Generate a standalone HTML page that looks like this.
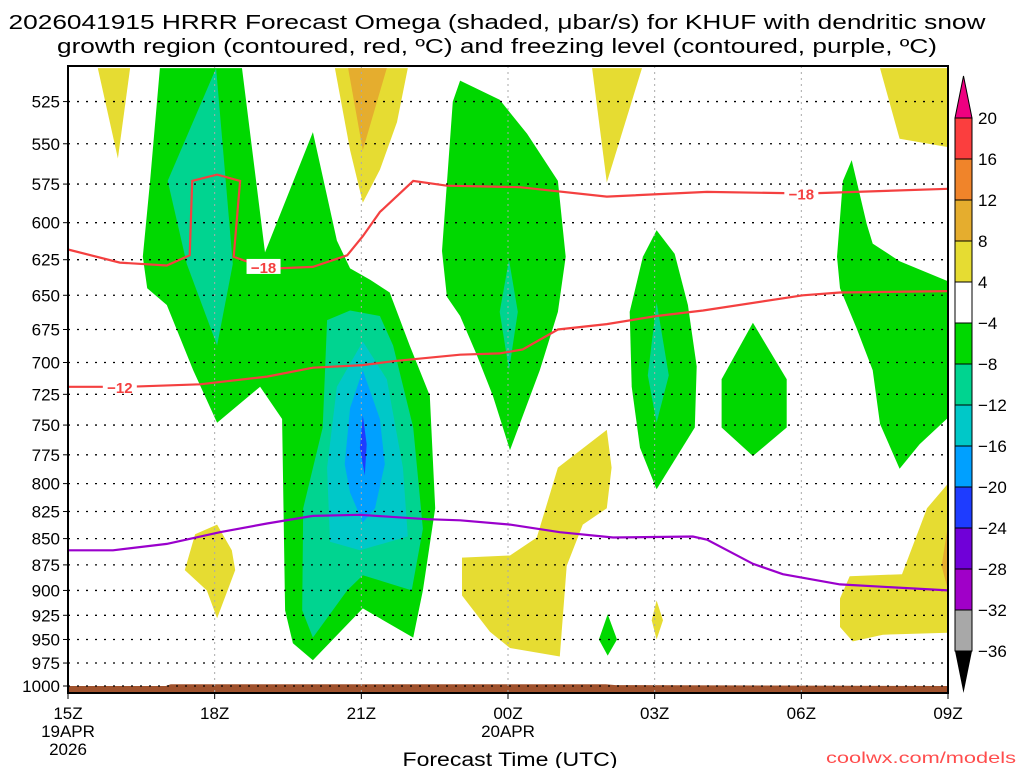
<!DOCTYPE html>
<html><head><meta charset="utf-8"><style>
body{margin:0;background:#fff;}
svg{display:block;font-family:"Liberation Sans",sans-serif;}
</style></head><body>
<svg id="chart" width="1024" height="768" viewBox="0 0 1024 768" xmlns="http://www.w3.org/2000/svg">
<rect width="1024" height="768" fill="#fff"/>
<text x="497" y="29" font-size="20" text-anchor="middle" textLength="977" lengthAdjust="spacingAndGlyphs">2026041915 HRRR Forecast Omega (shaded, μbar/s) for KHUF with dendritic snow</text>
<text x="497" y="53" font-size="20" text-anchor="middle" textLength="880" lengthAdjust="spacingAndGlyphs">growth region (contoured, red, ºC) and freezing level (contoured, purple, ºC)</text>
<g id="shade"></g>
<g id="grid"></g>
<g id="lines"></g>
<g id="axes"></g>
<g id="cbar"></g>
<text x="510" y="766" font-size="19" text-anchor="middle" textLength="215" lengthAdjust="spacingAndGlyphs">Forecast Time (UTC)</text>
<text x="826" y="763" font-size="16" fill="#ff4d4d" textLength="190" lengthAdjust="spacingAndGlyphs">coolwx.com/models</text>
</svg>
<script>
// ---- data ----
const levels=[525,550,575,600,625,650,675,700,725,750,775,800,825,850,875,900,925,950,975,1000];
const timeTicks=[0,3,6,9,12,15,18];
const timeLabels=["15Z","18Z","21Z","00Z","03Z","06Z","09Z"];
const cbarValues=[20,16,12,8,4,-4,-8,-12,-16,-20,-24,-28,-32,-36];
const cbarColors=["#fb3e3e","#f0842a","#e5ad2e","#e6dc32","#ffffff","#00d800","#00d490","#00c8c8","#00a0ff","#1e3cff","#7000d8","#a000c8","#a8a8a8"];
// shaded regions: [hour, hPa]
const greenWest=[[1.88,506],[1.68,573],[1.53,623],[1.62,645],[2.02,657],[2.56,706],[3.05,748],[3.93,719],[4.38,745],[4.44,920],[4.6,954],[5.01,972],[6.03,918],[7.06,948],[7.26,900],[7.51,822],[7.4,726],[6.99,687],[6.58,648],[6.18,639],[5.77,631],[5.5,612],[5.01,543],[4.03,620],[3.56,506]];
const tealWest=[[3.03,506],[2.04,573],[2.43,628],[3.05,687],[3.37,628]];
const tealMid=[[5.3,668],[5.77,661],[6.38,665],[6.65,687],[7.06,752],[7.26,841],[7.03,900],[6.03,885],[5.71,900],[5.01,948],[4.79,920],[4.81,822],[5.21,752]];
const cyanMid=[[6.03,684],[6.52,713],[6.85,786],[6.95,848],[5.97,861],[5.36,853],[5.3,786],[5.5,719]];
const blueMid=[[6.03,706],[6.38,745],[6.48,783],[6.28,822],[6.03,835],[5.77,808],[5.66,783],[5.77,736]];
const darkBlueMid=[[6.03,742],[6.11,766],[6.07,793],[5.97,769]];
const yellowTL=[[0.61,506],[1.27,506],[1.02,559]];
const yellowTop=[[5.46,506],[6.95,506],[6.73,537],[6.38,566],[6.03,587],[5.77,554]];
const orangeTop=[[5.73,506],[6.52,506],[6.03,554]];
const yellow18=[[3.05,837],[3.35,861],[3.42,880],[3.05,928],[2.84,900],[2.39,880],[2.6,846]];
const green00=[[8.02,513],[8.83,524],[9.39,544],[10.02,573],[10.18,623],[10.02,662],[9.65,706],[9.04,771],[8.69,726],[8.36,694],[8.02,665],[7.75,651],[7.65,619],[7.87,525]];
const teal00=[[9.02,625],[9.2,662],[9.02,706],[8.83,662]];
const green03=[[12.04,605],[12.41,621],[12.68,657],[12.86,703],[12.82,752],[12.04,805],[11.7,769],[11.53,719],[11.49,662],[11.76,623]];
const teal03=[[12.04,655],[12.29,710],[12.04,748],[11.86,710]];
const greenHex=[[14.01,670],[14.7,713],[14.7,752],[14.01,776],[13.37,752],[13.37,713]];
const greenEast=[[16.03,560],[16.34,601],[16.46,614],[17.01,626],[18,640],[18,744],[17.42,766],[17.01,787],[16.61,749],[16.46,706],[16.13,674],[15.79,645],[15.73,623],[15.85,573]];
const yellow01=[[10.72,506],[11.74,506],[11.02,574]];
const yellowTR=[[16.61,506],[18,506],[18,552],[17.01,547]];
const yellowLow=[[11.02,754],[11.12,786],[11.02,822],[10.53,837],[10.2,876],[10.06,968],[9.04,959],[8.63,942],[8.06,905],[8.06,868],[9.04,866],[9.59,849],[10.02,786]];
const greenSmall=[[11.04,924],[11.23,950],[11.04,967],[10.86,950]];
const yellowSmall=[[12.04,910],[12.17,930],[12.04,950],[11.94,930]];
const yellowBR=[[18,800],[17.57,822],[17.06,884],[15.99,886],[15.79,908],[15.79,937],[16.05,952],[16.67,945],[18,943]];
const orangeBR=[[18,837],[17.87,876],[18,900]];
// surface pressure (ground) [hour, hPa]
const ground=[[0,1000],[2,1000],[2.1,998],[11,998],[11.2,999],[18,1000]];
// contour lines
const iso12=[[0,719],[1.21,719],[2.7,717],[4.07,711],[5.01,704],[6.03,702],[6.65,699],[8.02,694],[8.83,693],[9.3,690],[10.02,675],[11.02,671],[12.04,665],[12.99,661],[15.03,650],[15.79,648],[18,647]];
const iso18=[[0,618],[1.06,627],[2.02,629],[2.49,622],[2.54,573],[3.05,569],[3.52,573],[3.39,623],[3.72,627],[4.27,631],[5.01,630],[5.71,622],[6.03,609],[6.38,593],[7.06,573],[7.75,576],[9.24,577],[11.02,583],[13.07,580],[15.11,581],[18,578]];
const freezing=[[0,861],[0.92,861],[2.02,855],[3.11,844],[4.07,836],[5.01,829],[5.97,828],[7.34,832],[8.02,833],[9.04,837],[10.06,844],[11.15,849],[12.78,848],[13.07,851],[14.01,874],[14.62,884],[15.79,894],[18,900]];

// ---- axes ----
const X0=68,X1=948,Y0=66,Y1=693;
const xs=h=>X0+h*(X1-X0)/18;
const ys=p=>686-907*Math.log(1000/p);
const NS="http://www.w3.org/2000/svg";
function mk(tag,attrs,parent){const e=document.createElementNS(NS,tag);for(const k in attrs)e.setAttribute(k,attrs[k]);parent.appendChild(e);return e;}
const pts=a=>a.map(d=>xs(d[0]).toFixed(1)+","+ys(d[1]).toFixed(1)).join(" ");
const shade=document.getElementById("shade");
const regions=[
 [greenWest,"#00d800","green-region-west"],[tealWest,"#00d490","teal-region-west"],
 [tealMid,"#00d490","teal-region-mid"],[cyanMid,"#00c8c8","cyan-region-mid"],
 [blueMid,"#00a0ff","blue-region-mid"],[darkBlueMid,"#1e3cff","darkblue-region-mid"],
 [yellowTL,"#e6dc32","yellow-region-tl"],[yellowTop,"#e6dc32","yellow-region-top"],
 [orangeTop,"#e5ad2e","orange-region-top"],[yellow18,"#e6dc32","yellow-region-18z"],
 [green00,"#00d800","green-region-00z"],[teal00,"#00d490","teal-region-00z"],
 [green03,"#00d800","green-region-03z"],[teal03,"#00d490","teal-region-03z"],
 [greenHex,"#00d800","green-region-05z"],[greenEast,"#00d800","green-region-east"],
 [yellow01,"#e6dc32","yellow-region-01z"],[yellowTR,"#e6dc32","yellow-region-tr"],
 [yellowLow,"#e6dc32","yellow-region-low"],[greenSmall,"#00d800","green-region-small"],
 [yellowSmall,"#e6dc32","yellow-region-small"],[yellowBR,"#e6dc32","yellow-region-br"],
 [orangeBR,"#e5ad2e","orange-region-br"]];
regions.forEach(r=>{
 const e=mk("polygon",{points:pts(r[0]),fill:r[1]},shade);
 
 
});
const gpts=pts(ground)+` ${X1},${Y1} ${X0},${Y1}`;
const gnd=mk("polygon",{points:gpts,fill:"#a0522d"},shade);



const grid=document.getElementById("grid");
levels.forEach(p=>{
 const l=mk("line",{x1:X0,x2:X1,y1:ys(p),y2:ys(p),stroke:"#000","stroke-width":1.3,"stroke-dasharray":"2,7"},grid);
 
 
});
timeTicks.slice(1,6).forEach(h=>{
 const l=mk("line",{x1:xs(h),x2:xs(h),y1:Y0,y2:Y1,stroke:"#aaa","stroke-width":1,"stroke-dasharray":"2,4"},grid);
 
 
});

const lines=document.getElementById("lines");
function line(arr,color,name){
 const e=mk("polyline",{points:pts(arr),fill:"none",stroke:color,"stroke-width":2.2},lines);
 
 
}
line(iso12,"#f44040","isotherm-minus12");
line(iso18,"#f44040","isotherm-minus18");
line(freezing,"#9a00cc","freezing-level");
function clabel(h,p,t,name){
 const x=xs(h),y=ys(p);
 const bg=mk("rect",{x:x-17,y:y-8,width:34,height:15,fill:"#fff"},lines);
 
 
 const tx=mk("text",{x:x,y:y+6,"font-size":15,"font-weight":"bold",fill:"#f44040","text-anchor":"middle"},lines);
 tx.textContent=t;
 
 
}
clabel(1.06,719,"−12","label-minus12");
clabel(4.0,630,"−18","label-minus18-west");
clabel(15.0,581,"−18","label-minus18-east");

const axes=document.getElementById("axes");
const frame=mk("rect",{x:X0,y:Y0,width:X1-X0,height:Y1-Y0,fill:"none",stroke:"#000","stroke-width":2},axes);


levels.forEach(p=>{
 const t=mk("text",{x:60,y:ys(p)+6,"font-size":17,"text-anchor":"end"},axes);
 t.textContent=p;
 
 
 const k=mk("line",{x1:X0-5,x2:X0,y1:ys(p),y2:ys(p),stroke:"#000"},axes);
 
 
});
timeTicks.forEach((h,i)=>{
 const k=mk("line",{x1:xs(h),x2:xs(h),y1:Y1,y2:Y1+6,stroke:"#000"},axes);
 
 
 const t=mk("text",{x:xs(h),y:719,"font-size":17,"text-anchor":"middle"},axes);
 t.textContent=timeLabels[i];
 
 
});
[[0,737,"19APR"],[0,755,"2026"],[9,737,"20APR"]].forEach(d=>{
 const t=mk("text",{x:xs(d[0]),y:d[1],"font-size":17,"text-anchor":"middle"},axes);
 t.textContent=d[2];
 
 
});

const cb=document.getElementById("cbar");
const CX=955,CW=17,CT=118,CH=41;
const tri=mk("polygon",{points:`${CX},${CT} ${CX+CW},${CT} ${CX+CW/2},${CT-42}`,fill:"#ee0080",stroke:"#000"},cb);


cbarColors.forEach((c,i)=>{
 const r=mk("rect",{x:CX,y:CT+i*CH,width:CW,height:CH,fill:c,stroke:"#000","stroke-width":1},cb);
 
 
});
const tb=CT+cbarColors.length*CH;
const tri2=mk("polygon",{points:`${CX},${tb} ${CX+CW},${tb} ${CX+CW/2},${tb+42}`,fill:"#000"},cb);


cbarValues.forEach((v,i)=>{
 const t=mk("text",{x:978,y:CT+i*CH+6,"font-size":17},cb);
 t.textContent=v<0?"−"+(-v):String(v);
 
 
});
</script>
</body></html>
